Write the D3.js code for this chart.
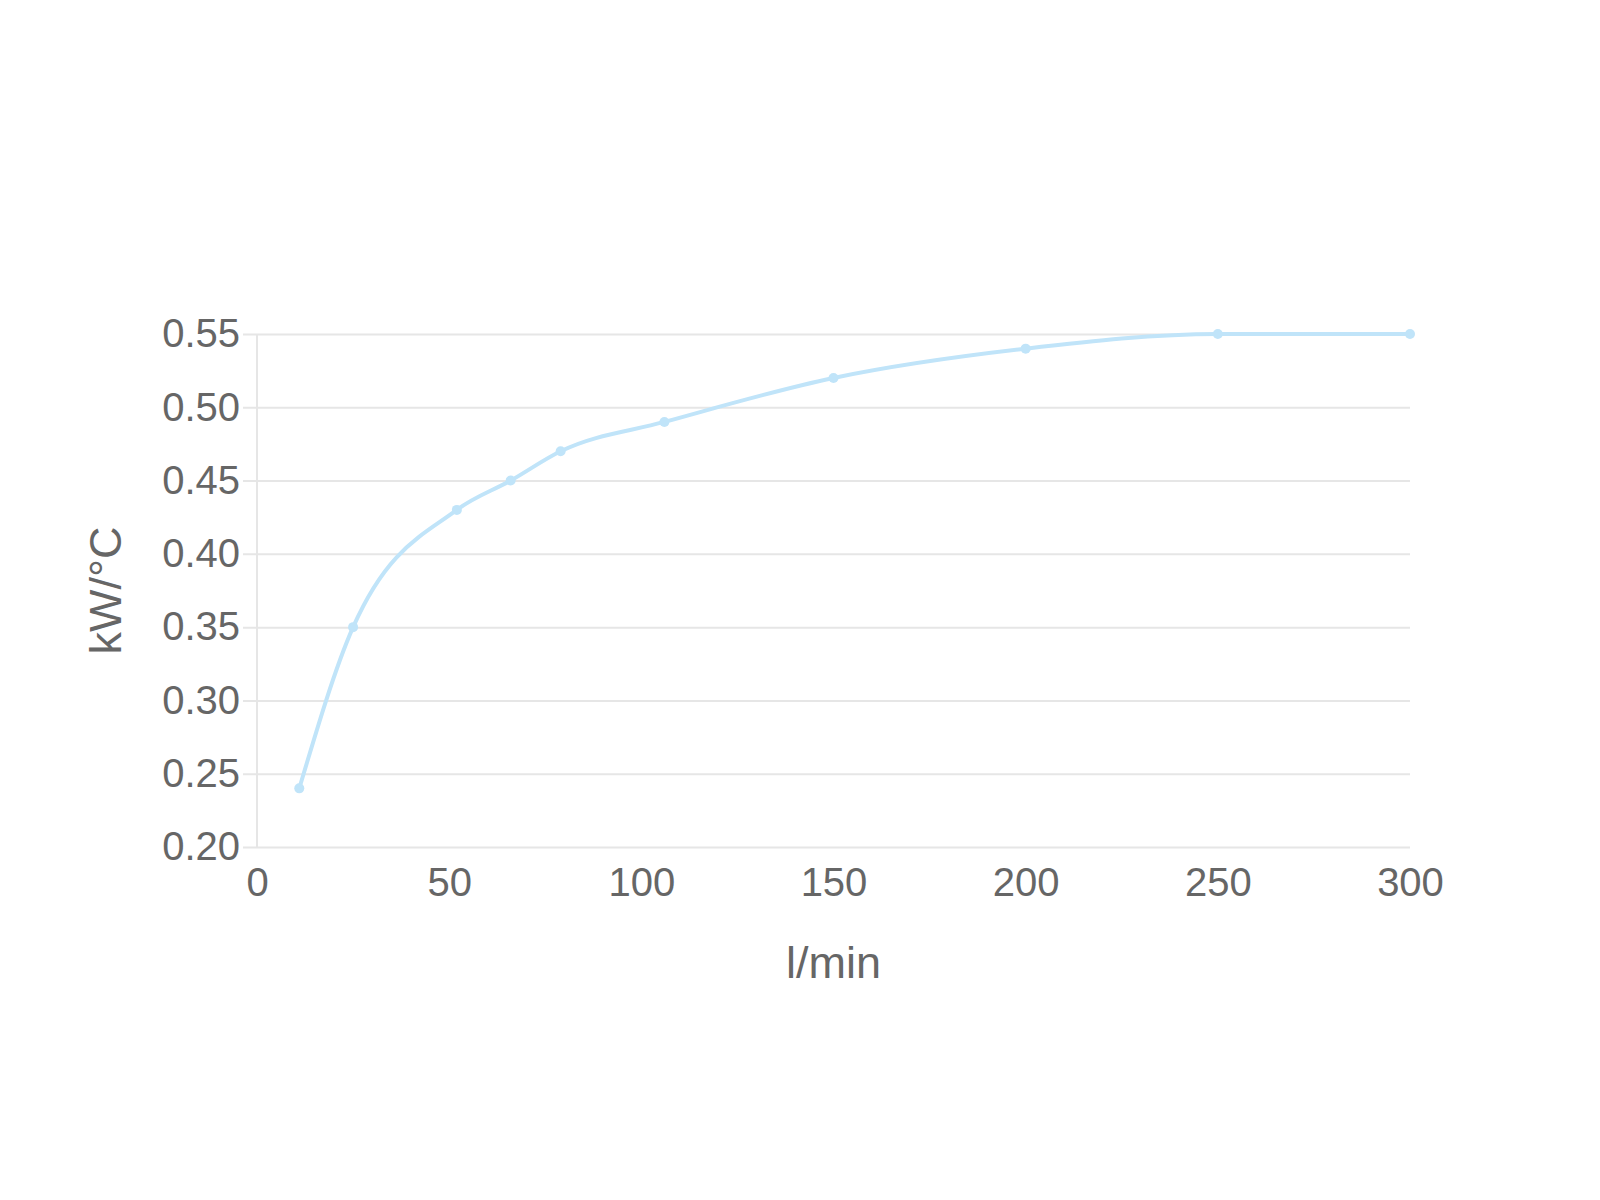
<!DOCTYPE html>
<html lang="en">
<head>
    <meta charset="UTF-8">
    <title>kW/°C vs l/min</title>
    <script src="https://d3js.org/d3.v7.min.js"></script>
    <style>
        body { margin: 0; background: #fff; }
        text { font-family: "Liberation Sans", Arial, sans-serif; fill: #666; }
        .grid line { stroke: #e6e6e6; stroke-width: 2; }
        .domain { display: none; }
    </style>
</head>
<body>
<script>
    // data
    var flow = [11, 25, 52, 66, 79, 106, 150, 200, 250, 300];
    var power = [0.24, 0.35, 0.43, 0.45, 0.47, 0.49, 0.52, 0.54, 0.55, 0.55];
    var xTicks = [0, 50, 100, 150, 200, 250, 300];
    var yTicks = [0.20, 0.25, 0.30, 0.35, 0.40, 0.45, 0.50, 0.55];

    var width = 1600,
        height = 1200,
        margin = { top: 334, right: 190, bottom: 353, left: 257 };

    var svg = d3.select("body").append("svg")
        .attr("width", width)
        .attr("height", height);

    var x = d3.scaleLinear().domain([0, 300]).range([margin.left, width - margin.right]);
    var y = d3.scaleLinear().domain([0.20, 0.55]).range([height - margin.bottom, margin.top]);

    // horizontal grid lines, with the little tick stub on the left
    svg.append("g")
        .attr("class", "grid")
        .attr("transform", "translate(" + x(0) + ",0)")
        .call(d3.axisLeft(y).tickValues(yTicks).tickSize(-(x(300) - x(0))).tickFormat(""))
        .selectAll("line").attr("x1", -14);

    // vertical axis line
    svg.append("line")
        .attr("x1", x(0)).attr("x2", x(0))
        .attr("y1", y(0.55)).attr("y2", y(0.20))
        .style("stroke", "#e6e6e6").style("stroke-width", 2);

    // y tick labels
    var yAxis = svg.append("g")
        .attr("transform", "translate(" + x(0) + ",0)")
        .call(d3.axisLeft(y).tickValues(yTicks).tickSize(0).tickPadding(17).tickFormat(d3.format(".2f")));
    yAxis.selectAll("text").style("font-size", "40px").style("fill", "#666");

    // x tick labels
    var xAxis = svg.append("g")
        .attr("transform", "translate(0," + y(0.20) + ")")
        .call(d3.axisBottom(x).tickValues(xTicks).tickSize(0).tickPadding(21));
    xAxis.selectAll("text").style("font-size", "40px").style("fill", "#666");

    // axis titles
    svg.append("text")
        .attr("x", (x(0) + x(300)) / 2)
        .attr("y", 978)
        .attr("text-anchor", "middle")
        .style("font-size", "45px")
        .text("l/min");

    svg.append("text")
        .attr("transform", "translate(121," + (y(0.20) + y(0.55)) / 2 + ") rotate(-90)")
        .attr("text-anchor", "middle")
        .style("font-size", "45px")
        .text("kW/°C");

    // the series
    var points = flow.map(function (d, i) { return [d, power[i]]; });

    var line = d3.line()
        .x(function (d) { return x(d[0]); })
        .y(function (d) { return y(d[1]); })
        .curve(d3.curveMonotoneX);

    svg.append("path")
        .datum(points)
        .attr("d", line)
        .style("fill", "none")
        .style("stroke", "#c0e4f9")
        .style("stroke-width", 4);

    svg.selectAll("circle.pt")
        .data(points)
        .enter().append("circle")
        .attr("class", "pt")
        .attr("cx", function (d) { return x(d[0]); })
        .attr("cy", function (d) { return y(d[1]); })
        .attr("r", 5)
        .style("fill", "#c0e4f9");
</script>
</body>
</html>
